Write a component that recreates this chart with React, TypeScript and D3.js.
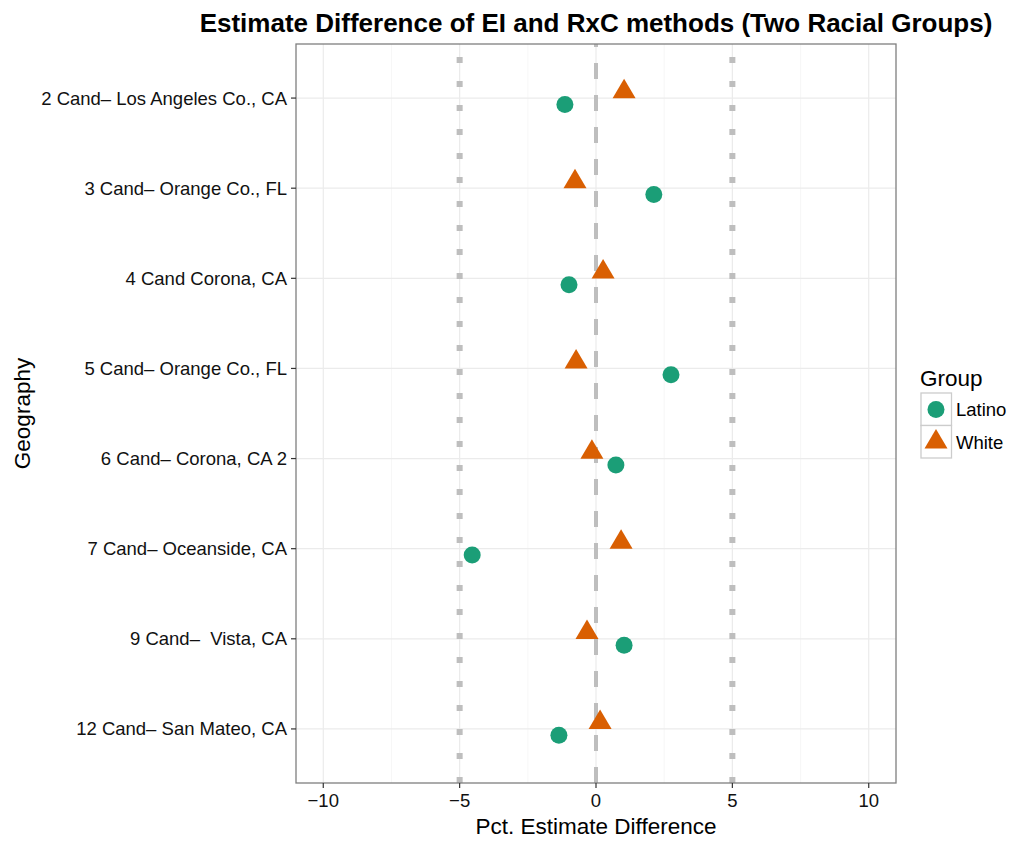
import React from "react";
import * as d3 from "d3";

const categories = [
  "2 Cand– Los Angeles Co., CA",
  "3 Cand– Orange Co., FL",
  "4 Cand Corona, CA",
  "5 Cand– Orange Co., FL",
  "6 Cand– Corona, CA 2",
  "7 Cand– Oceanside, CA",
  "9 Cand–  Vista, CA",
  "12 Cand– San Mateo, CA",
];
const latinoValues = [-1.14, 2.12, -0.99, 2.75, 0.73, -4.54, 1.03, -1.36];
const whiteValues = [1.03, -0.77, 0.26, -0.73, -0.15, 0.92, -0.33, 0.15];
const xTicks = [-10, -5, 0, 5, 10];
const xMinorTicks = [-7.5, -2.5, 2.5, 7.5];
const refDotted = [-5, 5];
const refDashed = [0];
const groups = ["Latino", "White"];
const groupColors = ["#1b9e77", "#d95f02"];

const W = 1013;
const H = 843;
const left = 296;
const right = 896;
const top = 44;
const bottom = 783;
const FONT = "'Liberation Sans', Arial, Helvetica, sans-serif";

export default function App() {
  const x = d3.scaleLinear().domain([-11, 11]).range([left, right]);
  const y = d3.scalePoint<string>().domain(categories).range([top, bottom]).padding(0.6);
  const color = d3.scaleOrdinal<string, string>().domain(groups).range(groupColors);
  const fmt = (v: number) => (v < 0 ? "\u2212" + Math.abs(v) : String(v));
  // triangle positioned by its centroid
  const tri = (cx: number, cy: number) => {
    const hw = 11.5, h = 19.5;
    return `M${cx},${cy - (2 * h) / 3}L${cx + hw},${cy + h / 3}L${cx - hw},${cy + h / 3}Z`;
  };
  const dodge = 6.4;

  return (
    <svg width={W} height={H} style={{ position: "absolute", left: 0, top: 0, background: "#fff" }} fontFamily={FONT}>
      <rect x={0} y={0} width={W} height={H} fill="#fff" />
      {/* grid */}
      {xMinorTicks.map((t) => (
        <line key={"mn" + t} x1={x(t)} x2={x(t)} y1={top} y2={bottom} stroke="#f5f5f5" strokeWidth={0.8} />
      ))}
      {xTicks.map((t) => (
        <line key={"mj" + t} x1={x(t)} x2={x(t)} y1={top} y2={bottom} stroke="#ebebeb" strokeWidth={1.2} />
      ))}
      {categories.map((c) => (
        <line key={"hy" + c} x1={left} x2={right} y1={y(c)} y2={y(c)} stroke="#ebebeb" strokeWidth={1.2} />
      ))}
      {/* reference lines, drawn bottom to top */}
      {refDotted.map((v) => (
        <line key={"rd" + v} x1={x(v)} x2={x(v)} y1={bottom} y2={top} stroke="#bebebe" strokeWidth={6} strokeDasharray="6,18" />
      ))}
      {refDashed.map((v) => (
        <line key={"rs" + v} x1={x(v)} x2={x(v)} y1={bottom} y2={top} stroke="#bebebe" strokeWidth={4} strokeDasharray="16,16" />
      ))}
      {/* points */}
      {categories.map((c, i) => (
        <g key={"p" + c}>
          <path d={tri(x(whiteValues[i]), (y(c) as number) - dodge)} fill={color("White")} />
          <circle cx={x(latinoValues[i])} cy={(y(c) as number) + dodge} r={8.5} fill={color("Latino")} />
        </g>
      ))}
      {/* panel border */}
      <rect x={left} y={top} width={right - left} height={bottom - top} fill="none" stroke="#7f7f7f" strokeWidth={1.3} />
      {/* y axis */}
      {categories.map((c) => (
        <g key={"yt" + c}>
          <line x1={left - 5} x2={left} y1={y(c)} y2={y(c)} stroke="#333" strokeWidth={1.2} />
          <text x={left - 9} y={(y(c) as number) + 6.5} textAnchor="end" fontSize={18.5} fill="#111" style={{ whiteSpace: "pre" }}>
            {c}
          </text>
        </g>
      ))}
      {/* x axis */}
      {xTicks.map((t) => (
        <g key={"xt" + t}>
          <line x1={x(t)} x2={x(t)} y1={bottom} y2={bottom + 5} stroke="#333" strokeWidth={1.2} />
          <text x={x(t)} y={bottom + 24} textAnchor="middle" fontSize={18.5} fill="#111">
            {fmt(t)}
          </text>
        </g>
      ))}
      <text x={(left + right) / 2} y={834} textAnchor="middle" fontSize={22.5}>
        Pct. Estimate Difference
      </text>
      <text transform={`translate(30,${(top + bottom) / 2}) rotate(-90)`} textAnchor="middle" fontSize={22.5}>
        Geography
      </text>
      {/* title */}
      <text x={(left + right) / 2} y={32} textAnchor="middle" fontSize={26} fontWeight="bold">
        Estimate Difference of EI and RxC methods (Two Racial Groups)
      </text>
      {/* legend */}
      <text x={920} y={386} fontSize={22.5}>
        Group
      </text>
      {groups.map((g, i) => {
        const ky = 393 + i * 32.5;
        const cx = 936;
        const cy = ky + 16.5;
        return (
          <g key={"lg" + g}>
            <rect x={921} y={ky} width={30.5} height={32.5} fill="#fff" stroke="#cccccc" strokeWidth={1.3} />
            {g === "Latino" ? (
              <circle cx={cx} cy={cy} r={8.5} fill={color(g)} />
            ) : (
              <path d={tri(cx, cy)} fill={color(g)} />
            )}
            <text x={956} y={cy + 6.5} fontSize={18.5}>
              {g}
            </text>
          </g>
        );
      })}
    </svg>
  );
}
